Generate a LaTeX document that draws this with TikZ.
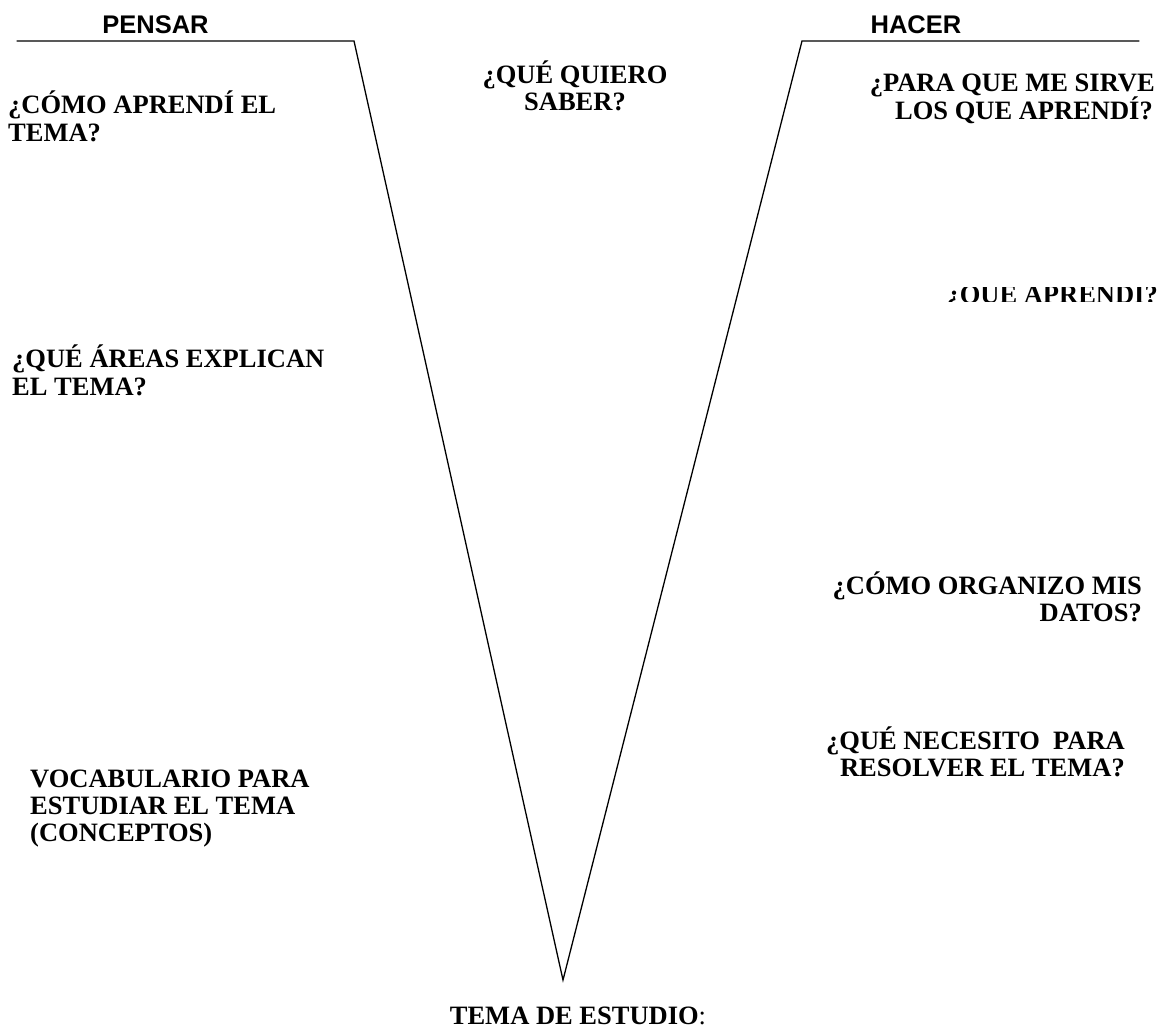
\documentclass[tikz,border=0pt]{standalone}
\usepackage{fontspec}
\setmainfont{Liberation Serif}
\newfontfamily\headfont{Liberation Sans}
\begin{document}
\begin{tikzpicture}[x=1pt,y=-1pt,
  q/.style={inner sep=0pt,font=\fontsize{26.5}{28}\selectfont\bfseries},
  head/.style={inner sep=0pt,anchor=base,font=\headfont\fontsize{25.5}{28}\selectfont\bfseries},
  vline/.style={line width=1.3pt,line cap=round}]
\useasboundingbox (0,0) rectangle (1162,1028);

% headings over the two arms of the V
\node[head] (pensar) at (155.5,33) {PENSAR};
\node[head] (hacer) at (916,33) {HACER};

% the V and its shoulders
\coordinate (lend) at (17,41);
\coordinate (ltop) at (354,41);
\coordinate (tip) at (563,980);
\coordinate (rtop) at (802,41);
\coordinate (rend) at (1139,41);
\draw[vline] (lend) -- (ltop) -- (tip) -- (rtop) -- (rend);

% centre question
\node[q,anchor=base] (c1) at (575,83) {¿QUÉ QUIERO};
\node[q,anchor=base] (c2) at (575,110) {SABER?};

% left side: thinking
\node[q,anchor=base west] (l1) at (8,113) {¿CÓMO APRENDÍ EL};
\node[q,anchor=base west] (l2) at (8,141) {TEMA?};
\node[q,anchor=base west] (l3) at (12,367) {¿QUÉ ÁREAS EXPLICAN};
\node[q,anchor=base west] (l4) at (12,395) {EL TEMA?};
\node[q,anchor=base west] (l5) at (30,787) {VOCABULARIO PARA};
\node[q,anchor=base west] (l6) at (30,814) {ESTUDIAR EL TEMA};
\node[q,anchor=base west] (l7) at (30,841) {(CONCEPTOS)};

% right side: doing
\node[q,anchor=base east] (r1) at (1155,91) {¿PARA QUE ME SIRVE};
\node[q,anchor=base east] (r2) at (1153,119) {LOS QUE APRENDÍ?};
\begin{scope}
  \clip (900,287) rectangle (1162,301);
  \node[q,anchor=base east] (r3) at (1158,303) {¿QUÉ APRENDÍ?};
\end{scope}
\node[q,anchor=base east] (r4) at (1142,594) {¿CÓMO ORGANIZO MIS};
\node[q,anchor=base east] (r5) at (1142,621) {DATOS?};
\node[q,anchor=base east] (r6) at (1125,749) {¿QUÉ NECESITO\ \ PARA\ };
\node[q,anchor=base east] (r7) at (1125,776) {RESOLVER EL TEMA?};

% topic under the tip
\node[inner sep=0pt,anchor=base,font=\fontsize{26.5}{28}\selectfont] (tema) at (578,1024) {\textbf{TEMA DE ESTUDIO}:};
\end{tikzpicture}
\end{document}
